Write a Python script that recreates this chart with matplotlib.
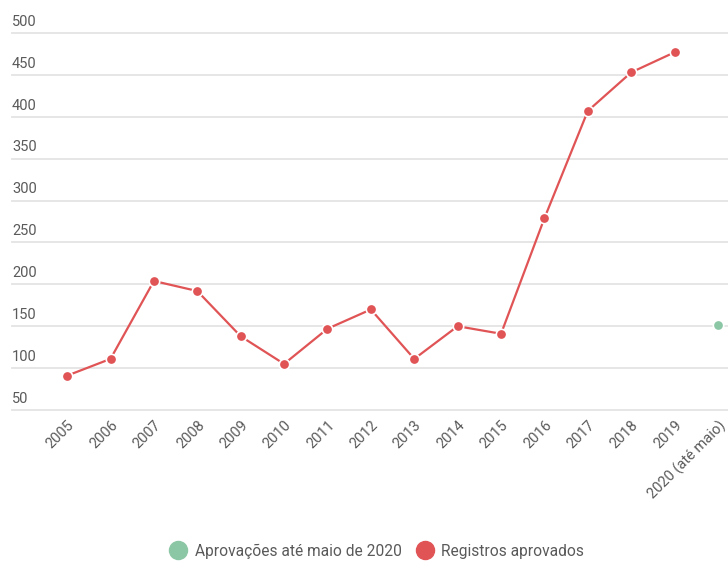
import numpy as np
import matplotlib.pyplot as plt
from matplotlib.lines import Line2D
from matplotlib.transforms import blended_transform_factory

plt.rcParams['font.family'] = ['Roboto', 'DejaVu Sans']

years = ["2005", "2006", "2007", "2008", "2009", "2010", "2011", "2012",
         "2013", "2014", "2015", "2016", "2017", "2018", "2019"]
registros = [91, 111, 204, 192, 138, 105, 147, 170, 111, 150, 141, 279, 407, 453, 477]
label_2020 = "2020 (até maio)"
aprov_2020 = 151

yticks = [50, 100, 150, 200, 250, 300, 350, 400, 450, 500]

red = "#e05456"
green = "#8cc7a5"
grey_txt = "#5a5a5a"


def main():
    fig = plt.figure(figsize=(7.28, 5.61), dpi=100)
    ax = fig.add_axes([12 / 728, 1 - 410 / 561, 716 / 728, 377 / 561])

    x = np.arange(len(years))
    ax.plot(x, registros, color=red, lw=1.6, marker="o", ms=7.5,
            markerfacecolor=red, markeredgecolor="white", markeredgewidth=1.2,
            zorder=3, clip_on=False)
    ax.plot([len(years)], [aprov_2020], color=green, marker="o", ms=7.5,
            markeredgecolor="white", markeredgewidth=1.2, lw=0, zorder=3,
            clip_on=False)

    ax.set_xlim(-1.27, 15.23)
    ax.set_ylim(50, 500)

    # grid + y labels above lines
    for v in yticks:
        ax.axhline(v, color="#e4e4e4", lw=1.3, zorder=1, clip_on=False)
    tr = blended_transform_factory(ax.transAxes, ax.transData)
    for v in yticks:
        ax.text(0.0, v + 5, str(v), transform=tr, ha="left", va="bottom",
                fontsize=10.5, color=grey_txt)

    ax.set_yticks([])
    ax.set_xticks(list(x) + [len(years)])
    ax.set_xticklabels(years + [label_2020], rotation=45, ha="right",
                       va="top", rotation_mode="anchor", fontsize=10.5,
                       color=grey_txt)
    ax.tick_params(axis="x", length=0, pad=6)
    for s in ax.spines.values():
        s.set_visible(False)

    handles = [
        Line2D([], [], lw=0, marker="o", ms=13, color=green),
        Line2D([], [], lw=0, marker="o", ms=13, color=red),
    ]
    fig.legend(handles, ["Aprovações até maio de 2020", "Registros aprovados"],
               loc="center", bbox_to_anchor=(0.517, 1 - 551 / 561), ncol=2,
               frameon=False, fontsize=11.2, handletextpad=0.45,
               columnspacing=0.9, labelcolor=grey_txt, handlelength=1.2)

    fig.savefig("out.png", dpi=100)


if __name__ == '__main__':
    main()
